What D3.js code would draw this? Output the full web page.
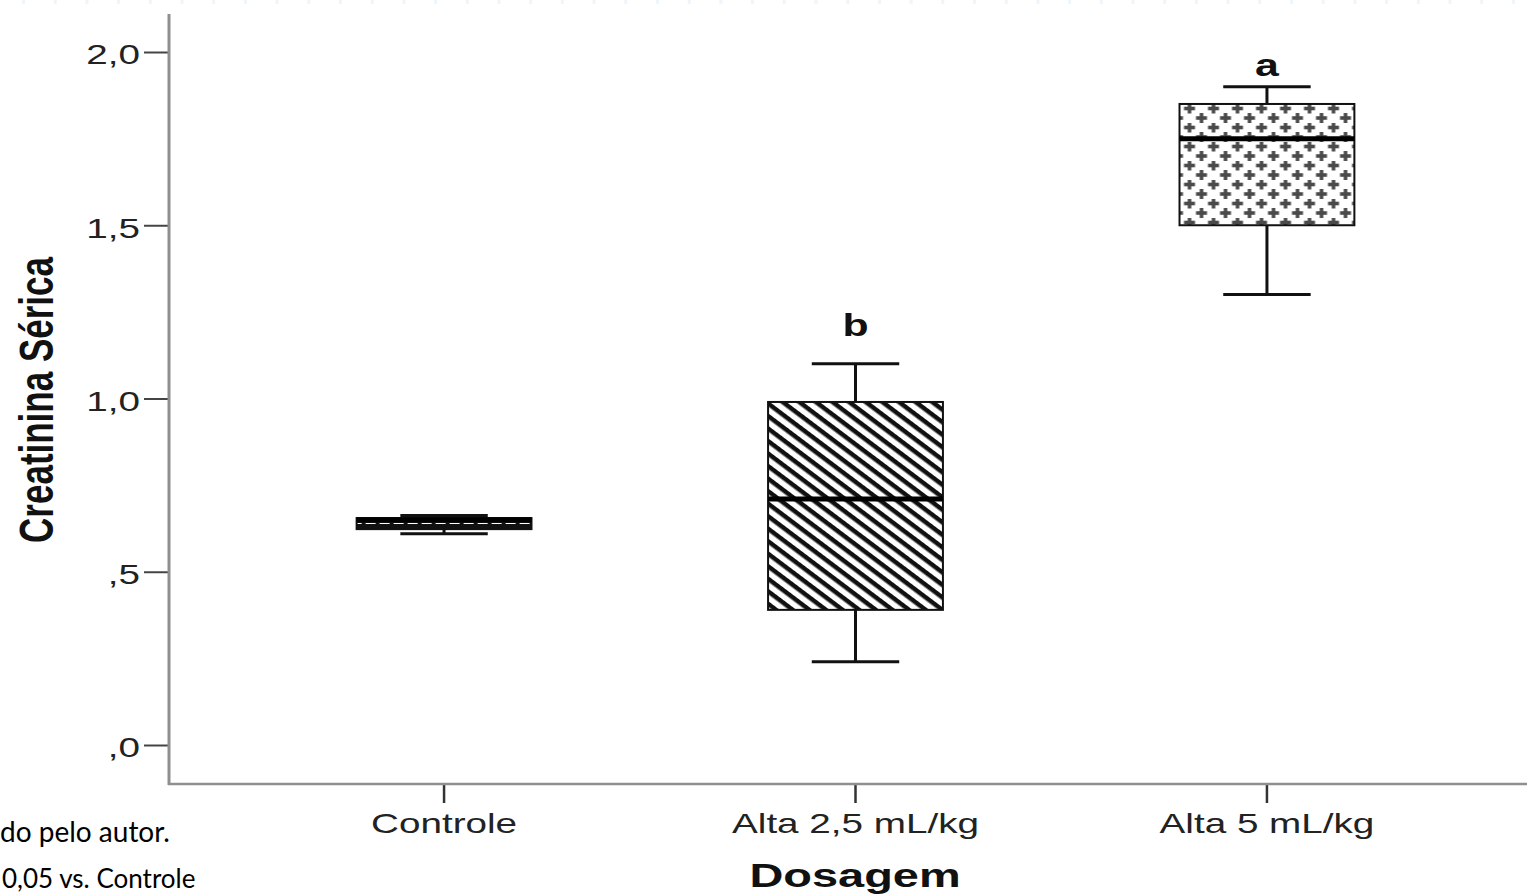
<!DOCTYPE html>
<html>
<head>
<meta charset="utf-8">
<script src="https://cdn.jsdelivr.net/npm/d3@7"></script>
<style>
  html, body { margin: 0; padding: 0; background: #fff; overflow: hidden; }
  svg { display: block; }
</style>
</head>
<body>
<svg id="chart" width="1527" height="895"></svg>
<script>
// values (Creatinina Sérica por dosagem)
const categories = ['Controle', 'Alta 2,5 mL/kg', 'Alta 5 mL/kg'];
const whiskerLow = [0.61, 0.24, 1.30];
const q1 = [0.623, 0.39, 1.50];
const median = [0.65, 0.71, 1.75];
const q3 = [0.655, 0.99, 1.85];
const whiskerHigh = [0.662, 1.10, 1.90];
const sigLetters = ['', 'b', 'a'];
const sigLetterAt = [0, 1.18, 1.93];
const fills = ['dash', 'hatch', 'cross'];
const yTicks = [0, 0.5, 1.0, 1.5, 2.0];

const SX = 1.38; // the original picture is stretched sideways

const svg = d3.select('#chart');
const width = 1527, height = 895;

const x = d3.scaleBand()
    .domain(categories)
    .range([169, 1542])
    .paddingInner(0.575)
    .paddingOuter(0.456);

const y = d3.scaleLinear()
    .domain([0, 2])
    .range([745, 52]);

const boxes = categories.map((c, i) => ({
    cat: c, lo: whiskerLow[i], q1: q1[i], med: median[i], q3: q3[i], hi: whiskerHigh[i],
    fill: fills[i], letter: sigLetters[i], letterAt: sigLetterAt[i]
}));

// faint dotted strip at the very top
svg.append('line')
    .attr('x1', 0).attr('x2', width)
    .attr('y1', 2).attr('y2', 2)
    .attr('stroke', '#eef5fb')
    .attr('stroke-width', 4)
    .attr('stroke-dasharray', '3,28.7')
    .attr('stroke-dashoffset', -22);

// fill patterns
const defs = svg.append('defs');

const dash = defs.append('pattern')
    .attr('id', 'dash')
    .attr('patternUnits', 'userSpaceOnUse')
    .attr('width', 14).attr('height', 6)
    .attr('x', 357).attr('y', 518);
dash.append('rect').attr('width', 14).attr('height', 6).attr('fill', '#111');
dash.append('rect').attr('x', 2).attr('y', 5).attr('width', 10).attr('height', 2).attr('fill', '#fff');

const hatch = defs.append('pattern')
    .attr('id', 'hatch')
    .attr('patternUnits', 'userSpaceOnUse')
    .attr('width', 40).attr('height', 10)
    .attr('patternTransform', 'rotate(37)');
hatch.append('rect').attr('width', 40).attr('height', 10).attr('fill', '#fff');
hatch.append('rect').attr('y', 0).attr('width', 40).attr('height', 4.5).attr('fill', '#111');

const cross = defs.append('pattern')
    .attr('id', 'cross')
    .attr('patternUnits', 'userSpaceOnUse')
    .attr('width', 24).attr('height', 19)
    .attr('x', 1180).attr('y', 104);
cross.append('rect').attr('width', 24).attr('height', 19).attr('fill', '#fff');
[[6, 4.5], [18, 14]].forEach(([cx, cy]) => {
    cross.append('rect').attr('x', cx - 5.5).attr('y', cy - 1.8).attr('width', 11).attr('height', 3.6).attr('fill', '#4a4a4a');
    cross.append('rect').attr('x', cx - 1.8).attr('y', cy - 5).attr('width', 3.6).attr('height', 10).attr('fill', '#4a4a4a');
});
// wrap-around pieces for the offset row
cross.append('rect').attr('x', 12.5).attr('y', -1.8 - 0.5).attr('width', 11).attr('height', 0).attr('fill', '#4a4a4a');

// axes
const fmt = d => {
    const s = d3.format('.1f')(d).replace('.', ',');
    return d < 1 ? s.replace(/^0/, '') : s;
};

const yAxis = svg.append('g')
    .attr('transform', 'translate(169,0)')
    .call(d3.axisLeft(y).tickValues(yTicks).tickFormat(fmt).tickSize(25).tickSizeOuter(0));
yAxis.select('.domain').remove();
yAxis.selectAll('.tick line').attr('stroke', '#444').attr('stroke-width', 2);
yAxis.selectAll('.tick text')
    .attr('x', -29 / SX)
    .attr('dy', '0.42em')
    .attr('transform', `scale(${SX},1)`)
    .style('font-family', '"Liberation Sans", Arial, sans-serif')
    .style('font-size', '28px')
    .attr('fill', '#222');

const xAxis = svg.append('g')
    .attr('transform', 'translate(0,785)')
    .call(d3.axisBottom(x).tickSize(18).tickSizeOuter(0));
xAxis.select('.domain').remove();
xAxis.selectAll('.tick line').attr('stroke', '#333').attr('stroke-width', 2.5);
xAxis.selectAll('.tick text')
    .attr('y', 48)
    .attr('dy', 0)
    .attr('transform', `scale(${SX},1)`)
    .style('font-family', '"Liberation Sans", Arial, sans-serif')
    .style('font-size', '28px')
    .attr('fill', '#222');

// axis lines
svg.append('line')
    .attr('x1', 169).attr('x2', 169).attr('y1', 14).attr('y2', 785)
    .attr('stroke', '#8f8f8f').attr('stroke-width', 3);
svg.append('line')
    .attr('x1', 168).attr('x2', width).attr('y1', 784).attr('y2', 784)
    .attr('stroke', '#8f8f8f').attr('stroke-width', 2.5);

// boxplots
const bw = x.bandwidth();
const g = svg.selectAll('g.box')
    .data(boxes)
    .join('g')
    .attr('class', 'box')
    .attr('transform', d => `translate(${x(d.cat)},0)`);

g.append('line')
    .attr('x1', bw / 2).attr('x2', bw / 2)
    .attr('y1', d => y(d.hi)).attr('y2', d => y(d.q3))
    .attr('stroke', '#111').attr('stroke-width', 3);
g.append('line')
    .attr('x1', bw / 2).attr('x2', bw / 2)
    .attr('y1', d => y(d.q1)).attr('y2', d => y(d.lo))
    .attr('stroke', '#111').attr('stroke-width', 3);
g.append('line')
    .attr('x1', bw / 4).attr('x2', bw * 3 / 4)
    .attr('y1', d => y(d.hi)).attr('y2', d => y(d.hi))
    .attr('stroke', '#111').attr('stroke-width', 3);
g.append('line')
    .attr('x1', bw / 4).attr('x2', bw * 3 / 4)
    .attr('y1', d => y(d.lo)).attr('y2', d => y(d.lo))
    .attr('stroke', '#111').attr('stroke-width', 3);

g.append('rect')
    .attr('x', 0)
    .attr('y', d => y(d.q3))
    .attr('width', bw)
    .attr('height', d => y(d.q1) - y(d.q3))
    .attr('fill', d => `url(#${d.fill})`)
    .attr('stroke', '#111')
    .attr('stroke-width', 2);

g.append('line')
    .attr('x1', 0).attr('x2', bw)
    .attr('y1', d => y(d.med)).attr('y2', d => y(d.med))
    .attr('stroke', '#000').attr('stroke-width', 5);

g.filter(d => d.letter)
    .append('text')
    .attr('transform', d => `translate(${bw / 2},${y(d.letterAt)}) scale(${SX},1)`)
    .attr('text-anchor', 'middle')
    .style('font-family', '"Liberation Sans", Arial, sans-serif')
    .style('font-size', '31px')
    .style('font-weight', 'bold')
    .attr('fill', '#111')
    .text(d => d.letter);

// axis titles
svg.append('text')
    .attr('transform', `translate(53,400) scale(${SX},1) rotate(-90)`)
    .attr('text-anchor', 'middle')
    .style('font-family', '"Liberation Sans", Arial, sans-serif')
    .style('font-size', '35px')
    .style('font-weight', 'bold')
    .attr('fill', '#111')
    .text('Creatinina Sérica');

svg.append('text')
    .attr('transform', `translate(855,887) scale(${SX},1)`)
    .attr('text-anchor', 'middle')
    .style('font-family', '"Liberation Sans", Arial, sans-serif')
    .style('font-size', '34px')
    .style('font-weight', 'bold')
    .attr('fill', '#111')
    .text('Dosagem');

// caption lines of the source document
svg.append('text')
    .attr('x', 0).attr('y', 842)
    .style('font-family', 'Lato, "Open Sans", sans-serif')
    .style('font-size', '28px')
    .attr('fill', '#000')
    .text('do pelo autor.');

svg.append('text')
    .attr('x', 2).attr('y', 888)
    .style('font-family', 'Lato, "Open Sans", sans-serif')
    .style('font-size', '26px')
    .attr('fill', '#000')
    .text('0,05 vs. Controle');
</script>
</body>
</html>
